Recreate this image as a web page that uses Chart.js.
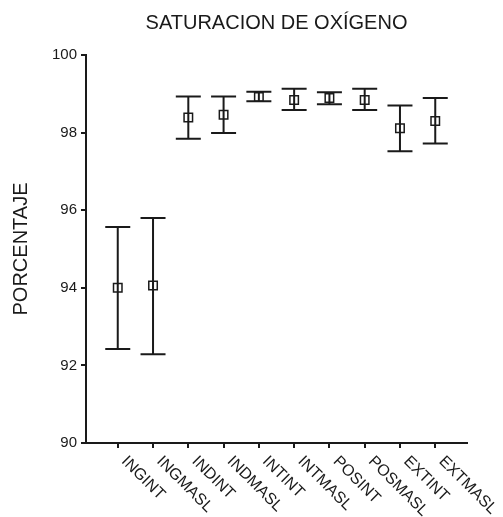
<!DOCTYPE html>
<html>
<head>
<meta charset="utf-8">
<script src="https://cdn.jsdelivr.net/npm/chart.js@4.4.0/dist/chart.umd.min.js"></script>
<style>
  html, body { margin: 0; padding: 0; background: #fff; }
  #wrap { width: 503px; height: 517px; }
</style>
</head>
<body>
<div id="wrap"><canvas id="chart"></canvas></div>
<script>
// Data
const labels = ['INGINT', 'INGMASL', 'INDINT', 'INDMASL', 'INTINT', 'INTMASL', 'POSINT', 'POSMASL', 'EXTINT', 'EXTMASL'];
const means  = [94.00, 94.06, 98.39, 98.46, 98.92, 98.84, 98.89, 98.84, 98.11, 98.30];
const upper  = [95.57, 95.80, 98.93, 98.93, 99.05, 99.13, 99.04, 99.13, 98.70, 98.89];
const lower  = [92.42, 92.29, 97.84, 97.99, 98.81, 98.58, 98.73, 98.58, 97.52, 97.72];
const yTicks = [90, 92, 94, 96, 98, 100];

const INK  = '#1a1a1a';
const FONT = "'Liberation Sans', Arial, sans-serif";

// whiskers + caps, drawn from the scales
const errorBars = {
  id: 'errorBars',
  afterDatasetsDraw(chart) {
    const { ctx, scales: { x, y } } = chart;
    ctx.save();
    ctx.strokeStyle = INK;
    ctx.lineWidth = 2;
    labels.forEach((_, i) => {
      const px = x.getPixelForValue(i);
      const top = y.getPixelForValue(upper[i]);
      const bot = y.getPixelForValue(lower[i]);
      ctx.beginPath();
      ctx.moveTo(px, top); ctx.lineTo(px, bot);
      ctx.moveTo(px - 12.5, top); ctx.lineTo(px + 12.5, top);
      ctx.moveTo(px - 12.5, bot); ctx.lineTo(px + 12.5, bot);
      ctx.stroke();
    });
    ctx.restore();
  }
};

// category labels slanted down to the right
const slantLabels = {
  id: 'slantLabels',
  afterDraw(chart) {
    const { ctx, chartArea, scales: { x } } = chart;
    ctx.save();
    ctx.fillStyle = INK;
    ctx.font = '16px ' + FONT;
    ctx.textAlign = 'left';
    ctx.textBaseline = 'alphabetic';
    labels.forEach((lab, i) => {
      ctx.save();
      ctx.translate(x.getPixelForValue(i) + 3, chartArea.bottom + 19);
      ctx.rotate(Math.PI / 4);
      ctx.fillText(lab, 0, 0);
      ctx.restore();
    });
    ctx.restore();
  }
};

new Chart(document.getElementById('chart'), {
  type: 'scatter',
  data: {
    datasets: [{
      data: means.map((m, i) => ({ x: i, y: m })),
      pointStyle: 'rect',
      pointRadius: 6,
      borderColor: INK,
      backgroundColor: 'rgba(0,0,0,0)',
      borderWidth: 1.5,
    }],
  },
  options: {
    responsive: true,
    maintainAspectRatio: false,
    animation: false,
    layout: { padding: { left: 0, right: 36, top: 0, bottom: 0 } },
    plugins: {
      legend: { display: false },
      tooltip: { enabled: false },
      title: {
        display: true,
        text: 'SATURACION DE OXÍGENO',
        fullSize: false,
        color: INK,
        font: { family: FONT, size: 20, weight: 'normal' },
        padding: { top: 11, bottom: 20 },
      },
    },
    scales: {
      x: {
        type: 'linear',
        min: -0.9,
        max: 9.9,
        afterBuildTicks: s => { s.ticks = labels.map((_, i) => ({ value: i })); },
        afterFit: s => { s.height = 74; },
        ticks: { display: false },
        grid: { drawOnChartArea: false, tickLength: 5, color: INK, lineWidth: 2 },
        border: { color: INK, width: 2 },
      },
      y: {
        min: 90,
        max: 100,
        afterBuildTicks: s => { s.ticks = yTicks.map(v => ({ value: v })); },
        afterFit: s => { s.width = 86; },
        ticks: { color: INK, padding: 4, font: { family: FONT, size: 15 } },
        grid: { drawOnChartArea: false, tickLength: 5, color: INK, lineWidth: 2 },
        border: { color: INK, width: 2 },
        title: {
          display: true,
          text: 'PORCENTAJE',
          color: INK,
          font: { family: FONT, size: 20 },
          padding: { top: 9, bottom: 0 },
        },
      },
    },
  },
  plugins: [errorBars, slantLabels],
});
</script>
</body>
</html>
